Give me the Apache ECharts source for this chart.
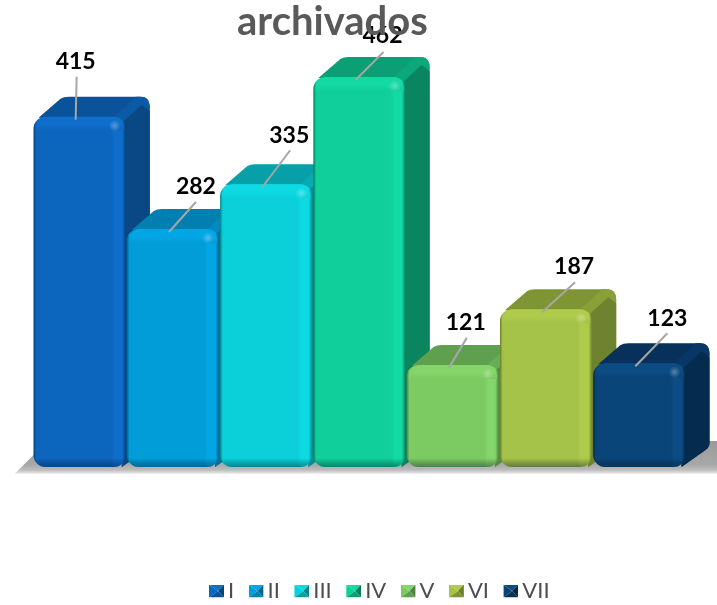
<!DOCTYPE html>
<html>
<head>
<meta charset="utf-8">
<style>
  html, body { margin: 0; padding: 0; background: #fff; }
  #chart { width: 717px; height: 605px; }
</style>
</head>
<body>
<div id="chart"></div>
<script src="https://cdn.jsdelivr.net/npm/echarts@6/dist/echarts.min.js"></script>
<script>
const categories = ['I', 'II', 'III', 'IV', 'V', 'VI', 'VII']
const values = [415, 282, 335, 462, 121, 187, 123]

// caras de cada barra
const frontColors = ['#0c66be', '#009dd9', '#0bd0d9', '#10cf9b', '#7cca62', '#a5c249', '#0a4579']
const lightColors = ['#0f6ecb', '#03a6e4', '#0ddae2', '#13d9a3', '#84d56a', '#aecb4c', '#0c4c84']
const topColors = ['#0a5299', '#007fb0', '#07a0a8', '#0c9e75', '#5fa04e', '#7f9534', '#07315a']
const ridgeColors = ['#0b5aa6', '#008abf', '#08abb3', '#0ca87c', '#68ac55', '#899f38', '#083766']
const sideColors = ['#094883', '#00709b', '#078c93', '#0b8460', '#548c45', '#6e8230', '#052b4f']
const darkColors = ['#07427c', '#00648c', '#06858a', '#097a5a', '#4c8340', '#69802d', '#042747']

// posicion de la etiqueta respecto al centro y tope de la barra
const labelDx = [-4, 23, 23, 23, 13, 28, 28]
const labelDy = [-55, -42, -49, -41, -42, -43, -45]
const lineDx = [-3, 23, 24, 24, 14, 29, 28]
const lineDy = [-40, -27, -34, -25, -27, -27, -30]

const depthX = 24
const depthY = 20

function vGrad(stops) {
  return { type: 'linear', x: 0, y: 0, x2: 0, y2: 1, colorStops: stops }
}
function hGrad(stops) {
  return { type: 'linear', x: 0, y: 0, x2: 1, y2: 0, colorStops: stops }
}

function renderBar(params, api) {
  const i = api.value(0)
  const idx = i
  const top = api.coord([i, api.value(1)])
  const base = api.coord([i, 0])
  const w = api.size([1, 0])[0] - 1
  const x0 = top[0] - w / 2
  const x1 = top[0] + w / 2
  const y0 = top[1]
  const y1 = base[1]
  const r = 12
  const dark = darkColors[idx]
  const light = lightColors[idx]

  // cara lateral y superior con esquinas redondeadas
  const back = 'M' + (x0 + 5) + ' ' + (y0 + 1) +
    ' L' + (x0 + 27) + ' ' + (y0 - depthY + 2) +
    ' Q' + (x0 + 30) + ' ' + (y0 - depthY) + ' ' + (x0 + 35) + ' ' + (y0 - depthY) +
    ' L' + (x1 + depthX - 10) + ' ' + (y0 - depthY) +
    ' Q' + (x1 + depthX) + ' ' + (y0 - depthY) + ' ' + (x1 + depthX) + ' ' + (y0 - depthY + 10) +
    ' L' + (x1 + depthX) + ' ' + (y1 - depthY - 4) +
    ' Q' + (x1 + depthX) + ' ' + (y1 - depthY) + ' ' + (x1 + depthX - 4) + ' ' + (y1 - depthY + 3) +
    ' L' + (x1 - 4) + ' ' + y1 + ' L' + x1 + ' ' + (y0 + 4) + ' Z'
  const side = 'M' + (x1 - 6) + ' ' + (y0 + 8) +
    ' L' + (x1 + depthX - 8) + ' ' + (y0 - depthY + 8) +
    ' L' + (x1 + depthX) + ' ' + (y0 - depthY + 14) +
    ' L' + (x1 + depthX) + ' ' + (y1 - depthY - 4) +
    ' Q' + (x1 + depthX) + ' ' + (y1 - depthY) + ' ' + (x1 + depthX - 4) + ' ' + (y1 - depthY + 3) +
    ' L' + (x1 - 4) + ' ' + y1 + ' Z'
  const ridge = 'M' + (x1 - 14) + ' ' + (y0 + 2) +
    ' L' + (x1 + depthX - 14) + ' ' + (y0 - depthY) +
    ' L' + (x1 + depthX - 8) + ' ' + (y0 - depthY) +
    ' Q' + (x1 + depthX) + ' ' + (y0 - depthY) + ' ' + (x1 + depthX) + ' ' + (y0 - depthY + 12) +
    ' L' + (x1 - 4) + ' ' + (y0 + 10) + ' Z'

  const px = top[0] - 4
  const py = y0 + 3

  return {
    type: 'group',
    children: [
      // sombra en el piso
      {
        type: 'polygon',
        z2: -10,
        shape: { points: [[x0 - 19, y1 + 7], [x0 + 2, y1 - 14], [x1 + depthX, y1 - 26], [x1 + depthX + 12, y1 - 26], [x1 + depthX + 16, y1 + 7]] },
        style: { fill: vGrad([{ offset: 0, color: '#9a9a9a' }, { offset: 0.72, color: '#a8a8a8' }, { offset: 0.88, color: '#bdbdbd' }, { offset: 1, color: '#f0f0f0' }]) }
      },
      { type: 'path', shape: { pathData: back }, style: { fill: topColors[idx] } },
      { type: 'path', shape: { pathData: ridge }, style: { fill: ridgeColors[idx] } },
      { type: 'path', shape: { pathData: side }, style: { fill: sideColors[idx] } },
      // cara frontal con bisel
      {
        type: 'rect',
        shape: { x: x0, y: y0, width: w, height: y1 - y0, r: r },
        style: {
          fill: hGrad([
            { offset: 0, color: dark },
            { offset: 0.03, color: frontColors[idx] },
            { offset: 0.84, color: frontColors[idx] },
            { offset: 0.88, color: light },
            { offset: 0.96, color: light },
            { offset: 1, color: dark }
          ])
        }
      },
      {
        type: 'rect',
        shape: { x: x0 + 2, y: y0, width: w - 4, height: 14, r: [r, r, 0, 0] },
        style: { fill: vGrad([{ offset: 0, color: light }, { offset: 0.55, color: light }, { offset: 1, color: frontColors[idx] }]) }
      },
      {
        type: 'rect',
        shape: { x: x0, y: y1 - 16, width: w, height: 16, r: [0, 0, r, r] },
        style: { fill: vGrad([{ offset: 0, color: 'rgba(0,0,0,0)' }, { offset: 0.45, color: 'rgba(0,0,0,0)' }, { offset: 1, color: 'rgba(0,30,60,0.42)' }]) }
      },
      {
        type: 'circle',
        shape: { cx: x1 - 11, cy: y0 + 9, r: 6 },
        style: {
          fill: {
            type: 'radial', x: 0.5, y: 0.5, r: 0.5,
            colorStops: [{ offset: 0, color: 'rgba(255,255,255,0.3)' }, { offset: 1, color: 'rgba(255,255,255,0)' }]
          }
        }
      },
      // linea guia y etiqueta
      {
        type: 'line',
        z2: 20,
        shape: { x1: px, y1: py, x2: top[0] + lineDx[idx], y2: y0 + lineDy[idx] },
        style: { stroke: '#a6a6a6', lineWidth: 2 }
      },
      {
        type: 'text',
        z2: 21,
        x: top[0] + labelDx[idx],
        y: y0 + labelDy[idx],
        style: {
          text: String(api.value(1)),
          fill: '#000',
          font: 'bold 23px Lato, sans-serif',
          align: 'center',
          verticalAlign: 'middle'
        }
      }
    ]
  }
}

// icono biselado de la leyenda
function legendIcon(i) {
  const svg = '<svg xmlns="http://www.w3.org/2000/svg" width="15" height="13">' +
    '<polygon points="0,0 15,0 9,6.5" fill="' + lightColors[i] + '"/>' +
    '<polygon points="0,0 9,6.5 0,13" fill="' + frontColors[i] + '"/>' +
    '<polygon points="15,0 15,13 9,6.5" fill="' + darkColors[i] + '"/>' +
    '<polygon points="0,13 15,13 9,6.5" fill="' + topColors[i] + '"/>' +
    '</svg>'
  return 'image://data:image/svg+xml;charset=utf-8,' + encodeURIComponent(svg)
}

const chart = echarts.init(document.getElementById('chart'))

chart.setOption({
  animation: false,
  title: {
    text: 'archivados',
    left: 232,
    top: -3,
    z: 10,
    textStyle: { color: '#595959', fontFamily: 'Lato, sans-serif', fontWeight: 'bold', fontSize: 40 }
  },
  legend: {
    left: 204,
    top: 575,
    itemWidth: 15,
    itemHeight: 13,
    itemGap: 14.4,
    textStyle: { color: '#4d4d4d', fontFamily: 'Lato, sans-serif', fontSize: 22, padding: [0, 0, 0, -1] },
    data: categories.map((name, i) => ({ name: name, icon: legendIcon(i) }))
  },
  grid: { left: 33, right: 31, top: 45, bottom: 138 },
  xAxis: {
    type: 'category',
    data: categories,
    show: false
  },
  yAxis: {
    type: 'value',
    min: 0,
    max: 500,
    show: false
  },
  series: categories.map((name, i) => ({
    type: 'custom',
    name: name,
    renderItem: renderBar,
    encode: { x: 0, y: 1 },
    itemStyle: { color: frontColors[i] },
    data: [[i, values[i]]]
  }))
})
</script>
</body>
</html>
